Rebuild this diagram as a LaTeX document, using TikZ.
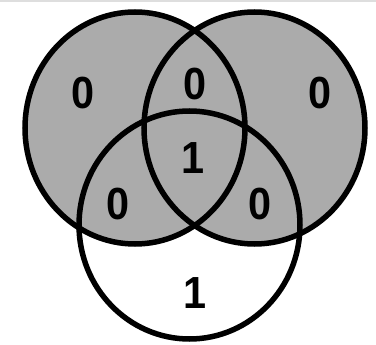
\documentclass[tikz,border=0pt]{standalone}
\usepackage{fontspec}
\setmainfont{Liberation Sans}
\definecolor{setgray}{RGB}{171,171,171}
\definecolor{stripgray}{RGB}{222,222,222}
\begin{document}
\begin{tikzpicture}[x=1pt,y=-1pt,
  ring/.style={draw=black,line width=5.5pt},
  val/.style={font=\fontsize{45}{45}\selectfont\bfseries,inner sep=0pt,anchor=center}]
\useasboundingbox (0,0) rectangle (376,345);
\fill[white] (0,0) rectangle (376,345);
\fill[stripgray] (0,0) rectangle (376,2.5);
% shaded sets
\fill[setgray] (135,128) ellipse [x radius=110, y radius=116];
\fill[setgray] (254.5,128) ellipse [x radius=110.5, y radius=116];
% outlines
\draw[ring] (135,128) ellipse [x radius=110, y radius=116];
\draw[ring] (254.5,128) ellipse [x radius=110.5, y radius=116];
\draw[ring] (189.5,225) ellipse [x radius=110.5, y radius=114];
% labels
\node[val,xscale=0.92] (a) at (83.5,93) {0};
\node[val,xscale=0.92] (ab) at (195,84) {0};
\node[val,xscale=0.92] (b) at (320,93) {0};
\node[val,xscale=0.92] (abc) at (193,158) {1};
\node[val,xscale=0.92] (ac) at (118,204) {0};
\node[val,xscale=0.92] (bc) at (260,204) {0};
\node[val,xscale=0.92] (c) at (195,293) {1};
\end{tikzpicture}
\end{document}
